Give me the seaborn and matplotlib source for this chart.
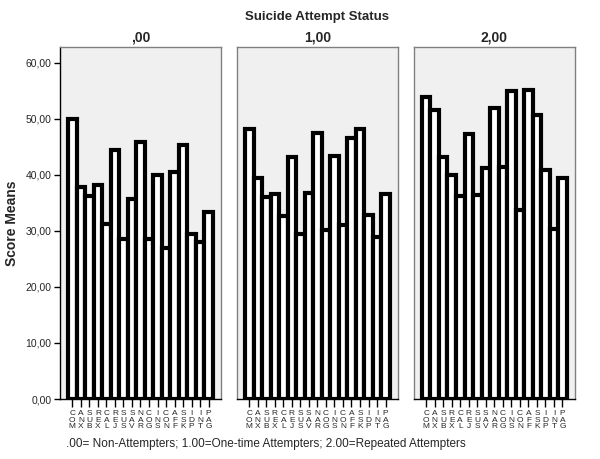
import matplotlib
matplotlib.use("Agg")
import matplotlib.pyplot as plt
import seaborn as sns
import pandas as pd

sns.set_theme(style="white")
plt.rcParams['font.family'] = ['Liberation Sans', 'DejaVu Sans']

categories = ["COM", "ANX", "SUB", "REX", "CAL", "REJ", "SUS", "SAV", "NAR",
              "COG", "INS", "CON", "AFF", "SSK", "IDP", "INT", "PAG"]
status_labels = [",00", "1,00", "2,00"]
non_attempters = [49.9, 37.8, 36.2, 38.1, 31.3, 44.4, 28.5, 35.7, 45.8,
                  28.5, 40.0, 27.0, 40.5, 45.4, 29.4, 28.0, 33.4]
one_time = [48.1, 39.5, 36.1, 36.6, 32.7, 43.1, 29.4, 36.8, 47.4,
            30.2, 43.4, 31.0, 46.6, 48.1, 32.9, 28.9, 36.5]
repeated = [53.9, 51.5, 43.1, 39.9, 36.2, 47.2, 36.4, 41.2, 51.9,
            41.4, 55.0, 33.7, 55.2, 50.7, 40.9, 30.4, 39.5]
y_ticks = [0, 10, 20, 30, 40, 50, 60]
y_tick_labels = ["0,00", "10,00", "20,00", "30,00", "40,00", "50,00", "60,00"]

series = [non_attempters, one_time, repeated]
rows = []
for lab, vals in zip(status_labels, series):
    for c, v in zip(categories, vals):
        rows.append({"status": lab, "category": c, "value": v})
df = pd.DataFrame(rows)

fig, axes = plt.subplots(1, 3, figsize=(6.0, 4.59), dpi=100, sharey=True)
fig.subplots_adjust(left=0.1, right=0.958, bottom=0.1307, top=0.8976, wspace=0.099)

for i, (ax, lab) in enumerate(zip(axes, status_labels)):
    sub = df[df["status"] == lab]
    sns.barplot(data=sub, x="category", y="value", order=categories, ax=ax,
                color="white", edgecolor="black", linewidth=3.0, width=1.0,
                errorbar=None, saturation=1)
    ax.set_facecolor("#F0F0F0")
    ax.set_xlim(-1.45, len(categories) + 0.45)
    ax.set_ylim(0, 62.8)
    ax.set_xlabel("")
    ax.set_ylabel("")
    ax.set_title(lab, fontsize=10, fontweight="bold", pad=4)
    ax.set_xticks(range(len(categories)))
    ax.set_xticklabels(["\n".join(c) for c in categories], fontsize=6,
                       linespacing=0.92)
    ax.tick_params(axis="x", direction="out", length=6, width=1, color="black",
                   pad=2, bottom=True)
    for s in ax.spines.values():
        s.set_color("#808080")
        s.set_linewidth(1.0)
    ax.spines["bottom"].set_color("black")
    if i == 0:
        ax.spines["left"].set_color("black")
        ax.set_yticks(y_ticks)
        ax.set_yticklabels(y_tick_labels, fontsize=7.5)
        ax.tick_params(axis="y", direction="out", length=4, width=1,
                       color="black", pad=2, left=True)
        ax.set_ylabel("Score Means", fontsize=10, fontweight="bold", labelpad=5)
    else:
        ax.tick_params(axis="y", left=False, labelleft=False)

fig.text(0.528, 0.963, "Suicide Attempt Status", ha="center", va="center",
         fontsize=9.5, fontweight="bold")
fig.text(0.11, 0.033, ".00= Non-Attempters; 1.00=One-time Attempters; 2.00=Repeated Attempters",
         ha="left", va="center", fontsize=8.5)

fig.savefig("out.png", dpi=100)
